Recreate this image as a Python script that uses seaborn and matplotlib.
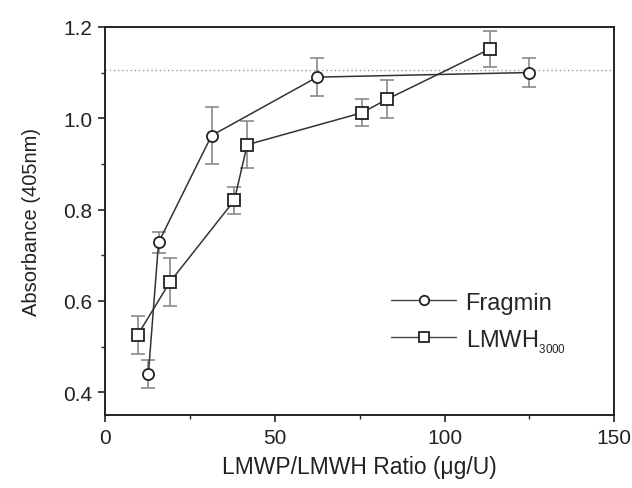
import numpy as np
import pandas as pd
import matplotlib
matplotlib.use("Agg")
import matplotlib.pyplot as plt
import seaborn as sns
from matplotlib.ticker import MultipleLocator

# Data
frag_x = [12.8, 15.8, 31.4, 62.5, 124.9]
frag_y = [0.44, 0.728, 0.962, 1.090, 1.100]
frag_err = [0.030, 0.024, 0.062, 0.042, 0.032]

lmwh_x = [9.6, 19.1, 38.1, 41.9, 75.7, 83.2, 113.5]
lmwh_y = [0.525, 0.641, 0.820, 0.942, 1.012, 1.042, 1.152]
lmwh_err = [0.042, 0.053, 0.030, 0.051, 0.030, 0.042, 0.040]

ref_line = 1.105

x_ticks = [0, 50, 100, 150]
y_ticks = [0.4, 0.6, 0.8, 1.0, 1.2]

sns.set_theme(style="ticks")
plt.rcParams['font.family'] = ['Liberation Sans', 'DejaVu Sans']

df = pd.concat([
    pd.DataFrame({"x": frag_x, "y": frag_y, "err": frag_err, "series": "Fragmin"}),
    pd.DataFrame({"x": lmwh_x, "y": lmwh_y, "err": lmwh_err, "series": "LMWH$_{\\mathregular{_{3000}}}$"}),
])

fig, ax = plt.subplots(figsize=(6.32, 4.89), dpi=100)
fig.subplots_adjust(left=0.166, right=0.972, top=0.943, bottom=0.149)

for name, g in df.groupby("series", sort=False):
    ax.errorbar(g["x"], g["y"], yerr=g["err"], fmt="none", ecolor="#8a8a8a",
                elinewidth=1.2, capsize=5, capthick=1.2, zorder=2)

markers = {"Fragmin": "o", "LMWH$_{\\mathregular{_{3000}}}$": "s"}
sns.lineplot(data=df, x="x", y="y", hue="series", style="series",
             markers=markers, dashes=False, sort=False, estimator=None,
             palette=["#333333", "#333333"], ax=ax, linewidth=1.1,
             markersize=8, markerfacecolor="white", markeredgecolor="#222222",
             markeredgewidth=1.3, zorder=3)

ax.axhline(ref_line, color="#999999", linestyle=(0, (1, 2)), linewidth=1.0, zorder=1)

ax.set_xlim(0, 150)
ax.set_ylim(0.35, 1.2)
ax.set_xticks(x_ticks)
ax.set_yticks(y_ticks)
ax.set_yticklabels([f"{v:.1f}" for v in y_ticks])
ax.xaxis.set_minor_locator(MultipleLocator(25))
ax.yaxis.set_minor_locator(MultipleLocator(0.1))
ax.tick_params(which="major", direction="out", length=5, width=1.2, labelsize=15,
               colors="#222222", pad=4)
ax.tick_params(which="minor", direction="out", length=3, width=1.0)
for s in ax.spines.values():
    s.set_visible(True)
    s.set_linewidth(1.4)
    s.set_color("#222222")

ax.set_xlabel("LMWP/LMWH Ratio (μg/U)", fontsize=16.5, color="#222222", labelpad=6)
ax.set_ylabel("Absorbance (405nm)", fontsize=14.5, color="#222222", labelpad=16)

leg = ax.legend(title=None, frameon=False, fontsize=17, loc="upper left",
                bbox_to_anchor=(0.562, 0.318), borderaxespad=0, borderpad=0,
                handlelength=2.75, handletextpad=0.4, labelspacing=0.55,
                markerscale=0.85)
for h in leg.legend_handles:
    h.set_linewidth(1.0)
    h.set_color("#444444")
    h.set_markeredgecolor("#222222")

fig.savefig("out.png", dpi=100)
